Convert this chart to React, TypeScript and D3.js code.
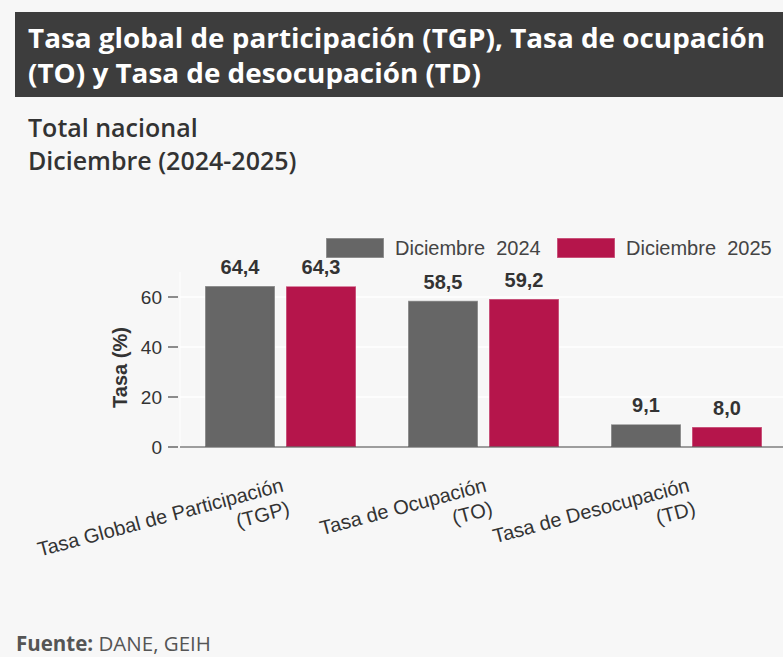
import React, { useLayoutEffect, useRef, useState } from "react";
import * as d3 from "d3";

const categories = [
  "Tasa Global de Participación (TGP)",
  "Tasa de Ocupación (TO)",
  "Tasa de Desocupación (TD)",
];
const seriesNames = ["Diciembre  2024", "Diciembre  2025"];
const values2024 = [64.4, 58.5, 9.1];
const values2025 = [64.3, 59.2, 8.0];
const yTicks = [0, 20, 40, 60];
const colors = ["#666666", "#b5154b"];
const titleLines = [
  "Tasa global de participación (TGP), Tasa de ocupación",
  "(TO) y Tasa de desocupación (TD)",
];

const W = 783;
const H = 657;

const locale = d3.formatLocale({
  decimal: ",",
  thousands: ".",
  grouping: [3],
  currency: ["$", ""],
});
const fmt = locale.format(".1f");

export default function App() {
  const line1Ref = useRef<SVGTSpanElement>(null);
  const [sx, setSx] = useState(0.95);

  useLayoutEffect(() => {
    if (line1Ref.current) {
      const w = line1Ref.current.getComputedTextLength();
      if (w > 0) setSx(737 / w);
    }
  }, []);

  const x0 = d3
    .scaleBand<string>()
    .domain(categories)
    .range([182, 791])
    .paddingInner(0.2266)
    .paddingOuter(0.1133);
  const x1 = d3
    .scaleBand<string>()
    .domain(seriesNames)
    .range([0, 151])
    .paddingInner(0.136)
    .paddingOuter(0);
  const y = d3.scaleLinear().domain([0, 70]).range([447, 272]);

  const series = [values2024, values2025];
  const sans = "'Liberation Sans', Arial, Helvetica, sans-serif";
  const open = "'Open Sans', 'Noto Sans', sans-serif";

  return (
    <svg
      width={W}
      height={H}
      viewBox={`0 0 ${W} ${H}`}
      style={{ position: "absolute", left: 0, top: 0, display: "block" }}
    >
      <rect x={0} y={0} width={W} height={H} fill="#f7f7f7" />
      {/* header */}
      <rect x={15} y={12} width={W - 15} height={85} fill="#3d3d3d" />
      <g transform={`translate(28,47.5) scale(${sx},1)`}>
        <text x={0} y={0} fill="#ffffff" fontFamily={open} fontWeight={700} fontSize={26.4}>
          <tspan ref={line1Ref} x={0} y={0}>
            {titleLines[0]}
          </tspan>
          <tspan x={0} y={36}>
            {titleLines[1]}
          </tspan>
        </text>
      </g>
      {/* subtitle */}
      <text x={28} y={137} fill="#333333" fontFamily={open} fontWeight={600} fontSize={25}>
        Total nacional
      </text>
      <text x={28} y={170} fill="#333333" fontFamily={open} fontWeight={600} fontSize={25}>
        Diciembre (2024-2025)
      </text>

      {/* legend */}
      {seriesNames.map((s, i) => (
        <g key={s} transform={`translate(${326 + i * 231},238)`}>
          <rect width={58} height={20} fill={colors[i]} stroke="rgba(255,255,255,0.35)" strokeWidth={1.5} />
          <text x={69} y={17} fontFamily={sans} fontSize={20} fill="#444444" style={{ whiteSpace: "pre" }}>
            {s}
          </text>
        </g>
      ))}

      {/* grid */}
      <line x1={180} x2={180} y1={y(70)} y2={y(0)} stroke="#ffffff" strokeWidth={1} />
      {yTicks.filter((t) => t > 0).map((t) => (
        <line key={t} x1={180} x2={W} y1={y(t)} y2={y(t)} stroke="#ffffff" strokeWidth={1.5} />
      ))}

      {/* bars */}
      {categories.map((c, ci) => (
        <g key={c} transform={`translate(${x0(c)},0)`}>
          {seriesNames.map((s, si) => {
            const v = series[si][ci];
            const bx = x1(s)!;
            const bw = x1.bandwidth();
            return (
              <g key={s}>
                <rect
                  x={bx}
                  y={y(v)}
                  width={bw}
                  height={y(0) - y(v)}
                  fill={colors[si]}
                  stroke="rgba(255,255,255,0.35)"
                  strokeWidth={1.5}
                />
                <text
                  x={bx + bw / 2}
                  y={y(v) - 12}
                  textAnchor="middle"
                  fontFamily={sans}
                  fontWeight={700}
                  fontSize={20}
                  fill="#333333"
                >
                  {fmt(v)}
                </text>
              </g>
            );
          })}
        </g>
      ))}

      {/* axes */}
      <line x1={180} x2={W} y1={y(0)} y2={y(0)} stroke="#444444" strokeWidth={1.2} />
      {yTicks.map((t) => (
        <g key={t}>
          <line x1={168} x2={178} y1={y(t)} y2={y(t)} stroke="#444444" strokeWidth={1.2} />
          <text
            x={162}
            y={y(t)}
            dy="0.35em"
            textAnchor="end"
            fontFamily={sans}
            fontSize={19}
            fill="#333333"
          >
            {t}
          </text>
        </g>
      ))}
      <text
        transform={`translate(127,${(y(0) + y(70)) / 2 + 8}) rotate(-90)`}
        textAnchor="middle"
        fontFamily={sans}
        fontWeight={700}
        fontSize={20}
        fill="#333333"
      >
        Tasa (%)
      </text>

      {/* x labels */}
      {categories.map((c) => {
        const idx = c.lastIndexOf(" (");
        const lines = [c.slice(0, idx), c.slice(idx + 1)];
        const cx = x0(c)! + x0.bandwidth() / 2;
        return (
          <text
            key={c}
            transform={`translate(${cx + 1},491) rotate(-15)`}
            textAnchor="end"
            fontFamily={sans}
            fontSize={20}
            fill="#333333"
          >
            {lines.map((l, i) => (
              <tspan key={i} x={0} dy={i === 0 ? 0 : 24}>
                {l}
              </tspan>
            ))}
          </text>
        );
      })}

      {/* footer */}
      <text x={16} y={651} fontFamily={open} fontSize={20.5} fill="#555555">
        <tspan fontWeight={700}>Fuente:</tspan>
        <tspan> DANE, GEIH</tspan>
      </text>
    </svg>
  );
}
